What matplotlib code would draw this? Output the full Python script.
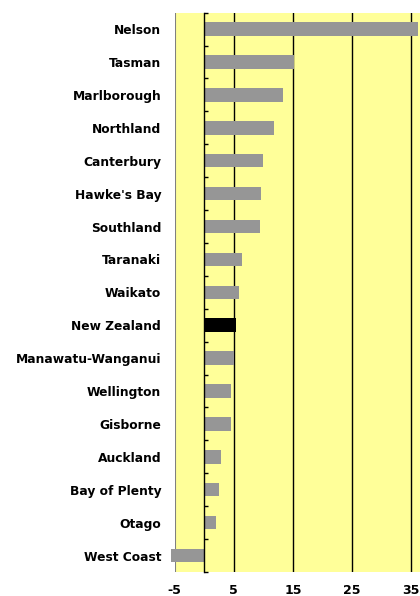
import numpy as np
import matplotlib.pyplot as plt

regions = ["Nelson", "Tasman", "Marlborough", "Northland", "Canterbury",
           "Hawke's Bay", "Southland", "Taranaki", "Waikato", "New Zealand",
           "Manawatu-Wanganui", "Wellington", "Gisborne", "Auckland",
           "Bay of Plenty", "Otago", "West Coast"]
growth = [36.1, 15.25, 13.4, 11.75, 9.9, 9.55, 9.4, 6.3, 5.95, 5.45,
          5.1, 4.45, 4.45, 2.75, 2.45, 1.9, -5.6]
highlight = "New Zealand"
xticks = [-5, 5, 15, 25, 35]

plt.rcParams["font.family"] = ["DejaVu Sans"]

fig = plt.figure(figsize=(4.2, 5.96), dpi=100)
ax = fig.add_axes([0.416, 0.0403, 0.584, 0.9384])
ax.set_facecolor("#FFFF99")

y = np.arange(len(regions))
colors = ["black" if r == highlight else "#969696" for r in regions]
ax.barh(y, growth, height=0.41, color=colors, zorder=2, clip_on=False)

ax.set_ylim(len(regions) - 0.5, -0.5)
ax.set_xlim(-5, 36.5)

ax.set_xticks(xticks)
ax.set_xticklabels([str(t) for t in xticks], fontsize=9, fontweight="bold")
ax.tick_params(axis="x", length=0, pad=9)
ax.set_axisbelow(True)
ax.xaxis.grid(True, color="black", linewidth=1)
ax.get_xgridlines()[0].set_color("#808080")
ax.get_xgridlines()[0].set_linewidth(1.5)

for s in ["top", "bottom", "right"]:
    ax.spines[s].set_visible(False)
ax.spines["left"].set_position(("data", 0))
ax.spines["left"].set_linewidth(1)
ax.spines["left"].set_zorder(3)

ax.set_yticks(y)
ax.set_yticklabels(regions, fontsize=8.8, fontweight="bold")
ax.set_yticks(np.arange(len(regions) + 1) - 0.5, minor=True)
ax.tick_params(axis="y", which="major", length=0, pad=31)
ax.tick_params(axis="y", which="minor", direction="in", length=3, width=1)

fig.savefig("out.png", dpi=100)
